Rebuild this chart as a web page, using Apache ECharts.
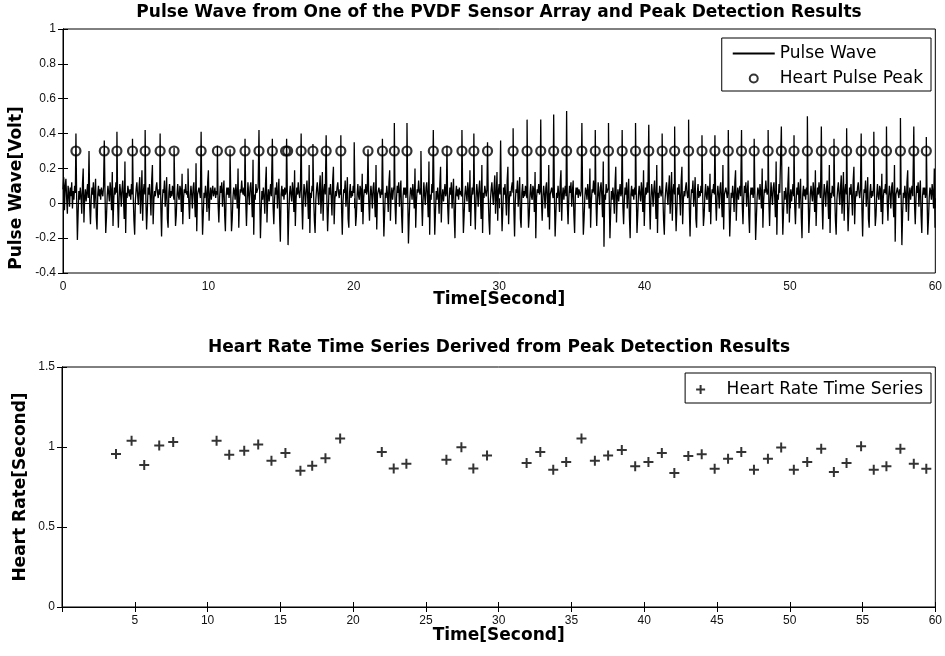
<!DOCTYPE html>
<html><head><meta charset="utf-8">
<script src="https://cdn.jsdelivr.net/npm/echarts@6/dist/echarts.min.js"></script>
<style>html,body{margin:0;padding:0;background:#fff}#c{width:945px;height:656px}</style>
</head><body><div id="c"></div>
<script>
// ---------- DATA ----------
const xTicksTop = [0, 10, 20, 30, 40, 50, 60];
const xTicksBottom = [5, 10, 15, 20, 25, 30, 35, 40, 45, 50, 55, 60];

// Pulse wave: sample step (s), beat onset times (s), and samples (volt x100) following each onset
const waveDt = 0.05;
const waveBeatTimes = [0, 0.89, 1.79, 2.84, 3.71, 4.78, 5.65, 6.68, 7.64, 8.60, 9.50, 10.62, 11.49, 12.52, 13.48, 14.40, 15.38, 16.38, 17.19, 18.10, 19.11, 20.03, 20.98, 21.97, 22.79, 23.66, 24.62, 25.47, 26.41, 27.44, 28.26, 29.20, 30.10, 30.96, 31.92, 32.86, 33.75, 34.64, 35.69, 36.61, 37.52, 38.46, 39.38, 40.29, 41.21, 42.07, 43.03, 43.95, 44.84, 45.76, 46.67, 47.54, 48.50, 49.41, 50.28, 51.20, 52.16, 53.03, 53.90, 54.90, 55.77, 56.64, 57.60, 58.52, 59.38];
const waveSegments = [
[8,15,-4,10,14,3,-6,10,6,-2,9,4,12,-3,7,2,10,6],
[40,3,-21,-6,7,2,9,4,-6,11,20,-11,3,8,1,6,11,3,5,8],
[30,-2,-12,2,9,5,12,-3,6,14,-8,-15,5,10,4,8,2,9,6,4,10,3],
[36,5,-17,-8,4,10,6,1,12,7,-4,18,-13,2,9,5,12,6,4],
[41,0,-14,3,11,6,-2,8,13,3,-9,24,-17,6,3,10,7,4,8,2,11,5],
[37,4,-10,-18,2,8,12,5,-1,9,15,-6,4,19,-10,7,11,5,3],
[42,2,-15,-4,9,5,11,3,-7,13,22,-12,2,7,4,9,12,6,3,8,5],
[40,-3,-19,1,8,6,13,-2,5,15,-9,-14,6,11,3,7,4,10,6,2],
[32,6,-13,-7,5,11,4,2,10,8,-5,17,-12,3,8,6,11,5,7,3],
[20,1,-9,4,10,5,-3,9,12,2,-8,23,-16,5,4,9,6,3,8,5],
[41,3,-18,-6,6,3,10,5,-5,12,19,-10,4,9,2,7,10,4,6,9,3,7,5],
[33,-1,-11,3,10,6,12,-2,7,13,-7,-16,4,9,5,9,3,8],
[31,5,-16,-9,3,9,7,2,11,6,-3,20,-14,1,8,6,13,7,5,9,4],
[37,1,-13,2,12,5,-1,9,12,4,-8,25,-18,5,2,11,6,5,9],
[42,4,-20,-5,7,2,9,4,-6,11,21,-11,3,8,1,6,11,4],
[37,-2,-12,2,9,5,12,-3,6,14,-8,-22,5,10,4,8,2,9,5,7],
[37,6,-24,-7,5,10,5,1,12,7,-5,19,-13,2,9,5,12,6,3,8],
[40,0,-15,3,11,6,-2,8,13,3,-9,22,-17,6,3,10,7],
[34,4,-10,-17,2,8,12,5,-1,9,16,-6,4,18,-10,7,11,5,4],
[39,2,-16,-4,9,5,11,3,-7,13,21,-12,2,7,4,9,12,6,3,8,5],
[39,-3,-18,1,8,6,13,-2,5,15,-9,-14,6,11,3,7,4,10,6],
[35,5,-13,-7,5,11,4,2,10,8,-5,17,-12,3,8,6,11,5,7],
[31,1,-10,4,10,5,-3,9,12,2,-8,22,-15,5,4,9,6,3,8,5],
[37,3,-19,-6,6,3,10,5,-5,12,19,-10,4,9,2,7,10],
[46,-1,-12,3,10,6,12,-2,7,13,-7,-17,4,9,5,9,3,8],
[46,5,-23,-9,3,9,7,2,11,6,-3,20,-14,1,8,6,13,7,5,9],
[30,1,-13,2,12,5,-1,9,12,4,-8,24,-18,5,2,11,6,5],
[42,4,-18,-5,7,2,9,4,-6,11,21,-11,3,8,1,6,11,4,6],
[33,-2,-12,2,9,5,12,-3,6,14,-8,-20,5,10,4,8,2,9,5,7,4],
[42,6,-17,-7,5,10,5,1,12,7,-5,19,-13,2,9,5,12],
[40,0,-15,3,11,6,-2,8,13,3,-9,22,-17,6,3,10,7,4,8],
[35,4,-10,-18,2,8,12,5,-1,9,16,-6,4,18,-10,7,11,5],
[36,2,-16,-4,9,5,11,3,-7,13,21,-12,2,7,4,9,12,6],
[43,-3,-19,1,8,6,13,-2,5,15,-9,-14,6,11,3,7,4,10,6,3],
[48,5,-14,-7,5,11,4,2,10,8,-5,18,-20,3,8,6,11,5,7],
[48,1,-10,4,10,5,-3,9,12,2,-8,22,-15,5,4,9,6,3],
[51,3,-19,-6,6,3,10,5,-5,12,19,-10,4,9,2,7,10,4],
[53,-1,-12,3,10,6,12,-2,7,13,-7,-17,4,9,5,9,3,8,6,4,7],
[46,5,-18,-9,3,9,7,2,11,6,-3,20,-14,1,8,6,13,7,5],
[42,1,-13,2,12,5,-1,9,12,4,-8,24,-25,5,2,11,6,5,9],
[46,4,-20,-5,7,2,9,4,-6,11,21,-11,3,8,1,6,11,4,6],
[42,-2,-12,2,9,5,12,-3,6,14,-8,-20,5,10,4,8,2,9,5],
[46,6,-17,-7,5,10,5,1,12,7,-5,19,-13,2,9,5,12,6],
[45,0,-15,3,11,6,-2,8,13,3,-9,22,-17,6,3,10,7,4,8],
[40,4,-10,-18,2,8,12,5,-1,9,16,-6,4,18,-10,7,11,5],
[44,2,-16,-4,9,5,11,3,-7,13,21,-12,2,7,4,9,12,6,3,8],
[48,-3,-19,1,8,6,13,-2,5,15,-9,-14,6,11,3,7,4,10,6],
[39,5,-13,-7,5,11,4,2,10,8,-5,17,-12,3,8,6,11,5],
[39,1,-10,4,10,5,-3,9,12,2,-8,22,-15,5,4,9,6,3,8],
[42,3,-19,-6,6,3,10,5,-5,12,19,-10,4,9,2,7,10,4],
[42,-1,-12,3,10,6,12,-2,7,13,-7,-17,4,9,5,9,3,8],
[37,5,-21,-9,3,9,7,2,11,6,-3,20,-14,1,8,6,13,7,5,9],
[42,1,-13,2,12,5,-1,9,12,4,-8,24,-18,5,2,11,6,5],
[44,4,-18,-5,7,2,9,4,-6,11,21,-11,3,8,1,6,11,4],
[39,-2,-12,2,9,5,12,-3,6,14,-8,-20,5,10,4,8,2,9,5],
[50,6,-17,-7,5,10,5,1,12,7,-5,19,-13,2,9,5,12,6,3],
[44,0,-15,3,11,6,-2,8,13,3,-9,22,-17,6,3,10,7,4],
[37,4,-10,-18,2,8,12,5,-1,9,16,-6,4,18,-10,7,11,5],
[43,2,-16,-4,9,5,11,3,-7,13,21,-12,2,7,4,9,12,6,3,8,5],
[40,-3,-19,1,8,6,13,-2,5,15,-9,-14,6,11,3,7,4,10],
[41,5,-13,-7,5,11,4,2,10,8,-5,17,-12,3,8,6,11,5],
[44,1,-10,4,10,5,-3,9,12,2,-8,22,-22,5,4,9,6,3,8,5],
[49,3,-24,-6,6,3,10,5,-5,12,19,-10,4,9,2,7,10,4],
[44,-1,-12,3,10,6,12,-2,7,13,-7,-17,4,9,5,9,3,8],
[38,5,-18,-9,3,9,7,2,11,6,-3,20,-14]
];

// Detected heart pulse peaks
const peakTimes = [0.89, 2.84, 3.71, 4.78, 5.65, 6.68, 7.64, 9.50, 10.62, 11.49, 12.52, 13.48, 14.40, 15.31, 15.45, 16.38, 17.19, 18.10, 19.11, 20.98, 21.97, 22.79, 23.66, 25.47, 26.41, 27.44, 28.26, 29.20, 30.96, 31.92, 32.86, 33.75, 34.64, 35.69, 36.61, 37.52, 38.46, 39.38, 40.29, 41.21, 42.07, 43.03, 43.95, 44.84, 45.76, 46.67, 47.54, 48.50, 49.41, 50.28, 51.20, 52.16, 53.03, 53.90, 54.90, 55.77, 56.64, 57.60, 58.52, 59.38];
const peakLevels = [0.3,0.3,0.3,0.3,0.3,0.3,0.3,0.3,0.3,0.3,0.3,0.3,0.3,0.3,0.3,0.3,0.3,0.3,0.3,0.3,0.3,0.3,0.3,0.3,0.3,0.3,0.3,0.3,0.3,0.3,0.3,0.3,0.3,0.3,0.3,0.3,0.3,0.3,0.3,0.3,0.3,0.3,0.3,0.3,0.3,0.3,0.3,0.3,0.3,0.3,0.3,0.3,0.3,0.3,0.3,0.3,0.3,0.3,0.3,0.3];

// Heart rate time series
const hrTimes = [3.71,4.78,5.65,6.68,7.64,10.62,11.49,12.52,13.48,14.39,15.35,16.38,17.19,18.10,19.11,21.97,22.79,23.66,26.41,27.44,28.26,29.20,31.92,32.86,33.75,34.64,35.69,36.61,37.52,38.46,39.38,40.29,41.21,42.07,43.03,43.95,44.84,45.76,46.67,47.54,48.50,49.41,50.28,51.20,52.16,53.03,53.90,54.90,55.77,56.64,57.60,58.52,59.38];
const hrValues = [0.956,1.039,0.887,1.010,1.031,1.039,0.952,0.977,1.016,0.914,0.962,0.852,0.883,0.929,1.053,0.968,0.866,0.896,0.920,0.999,0.866,0.947,0.900,0.968,0.858,0.906,1.053,0.914,0.947,0.981,0.879,0.906,0.962,0.837,0.943,0.954,0.864,0.927,0.968,0.858,0.927,0.997,0.858,0.906,0.989,0.844,0.900,1.004,0.858,0.879,0.989,0.896,0.864];

// ---------- BUILD ----------
const wave = [];
for (let i = 0; i < waveBeatTimes.length; i++) {
  const t0 = waveBeatTimes[i];
  const tEnd = i + 1 < waveBeatTimes.length ? waveBeatTimes[i + 1] : 60.0001;
  const seg = waveSegments[i];
  for (let k = 0; k < seg.length; k++) {
    const t = t0 + k * waveDt;
    if (t >= tEnd - 1e-9) break;
    wave.push([+t.toFixed(3), seg[k] / 100]);
  }
}
const peaks = peakTimes.map((t, i) => [t, peakLevels[i]]);
const hr = hrTimes.map((t, i) => [t, hrValues[i]]);

const FONT = 'Liberation Sans, Arial, sans-serif';
const BOLDFONT = 'DejaVu Sans, sans-serif';
const tickLbl = { fontSize: 12, color: '#111', fontFamily: FONT };
const nameStyle = { fontSize: 17, fontWeight: 'bold', color: '#000', fontFamily: BOLDFONT };
const legendText = { fontSize: 17, color: '#000', fontFamily: BOLDFONT };
const axLine = { show: true, lineStyle: { color: '#000', width: 1 } };
const tickIn = { show: true, inside: true, length: 5, lineStyle: { color: '#000', width: 1 } };

const chart = echarts.init(document.getElementById('c'), null, { renderer: 'canvas' });
chart.setOption({
  animation: false,
  backgroundColor: '#fff',
  title: [
    { text: 'Pulse Wave from One of the PVDF Sensor Array and Peak Detection Results', left: 499, textAlign: 'center', top: 4, padding: 0,
      textStyle: nameStyle },
    { text: 'Heart Rate Time Series Derived from Peak Detection Results', left: 499, textAlign: 'center', top: 339, padding: 0,
      textStyle: nameStyle }
  ],
  legend: [
    { data: [
        { name: 'Pulse Wave', itemStyle: { opacity: 0 } },
        { name: 'Heart Pulse Peak', icon: 'circle' }
      ],
      orient: 'vertical', right: 14, top: 38,
      itemWidth: 42, itemHeight: 8, itemGap: 8, padding: [7, 8, 4, 10],
      borderColor: '#000', borderWidth: 1, backgroundColor: '#fff', borderRadius: 0,
      textStyle: legendText },
    { data: ['Heart Rate Time Series'], orient: 'vertical', right: 14, top: 373,
      itemWidth: 42, itemHeight: 9, padding: [8, 8, 5, 10],
      borderColor: '#000', borderWidth: 1, backgroundColor: '#fff', borderRadius: 0,
      textStyle: legendText }
  ],
  grid: [
    { left: 62, right: 9, top: 29, height: 244, show: true, borderColor: '#000', borderWidth: 1, backgroundColor: '#fff' },
    { left: 62, right: 9, top: 367, height: 240, show: true, borderColor: '#000', borderWidth: 1, backgroundColor: '#fff' }
  ],
  xAxis: [
    { gridIndex: 0, type: 'value', min: xTicksTop[0], max: xTicksTop[xTicksTop.length - 1], interval: 10, position: 'bottom',
      axisLine: axLine, axisTick: tickIn, splitLine: { show: false },
      axisLabel: Object.assign({ margin: 8 }, tickLbl),
      name: 'Time[Second]', nameLocation: 'middle', nameGap: 18, nameMoveOverlap: false, nameTextStyle: nameStyle },
    { gridIndex: 0, type: 'value', min: 0, max: 60, interval: 10, position: 'top',
      axisLine: axLine, axisTick: tickIn, splitLine: { show: false }, axisLabel: { show: false } },
    { gridIndex: 1, type: 'value', min: 0, max: xTicksBottom[xTicksBottom.length - 1], interval: 5, position: 'bottom',
      axisLine: axLine, axisTick: tickIn, splitLine: { show: false },
      axisLabel: Object.assign({ margin: 8, formatter: v => (xTicksBottom.indexOf(v) >= 0 ? String(v) : '') }, tickLbl),
      name: 'Time[Second]', nameLocation: 'middle', nameGap: 20, nameMoveOverlap: false, nameTextStyle: nameStyle },
    { gridIndex: 1, type: 'value', min: 0, max: 60, interval: 5, position: 'top',
      axisLine: axLine, axisTick: tickIn, splitLine: { show: false }, axisLabel: { show: false } }
  ],
  yAxis: [
    { gridIndex: 0, type: 'value', min: -0.4, max: 1, interval: 0.2, position: 'left',
      axisLine: axLine, axisTick: tickIn, splitLine: { show: false },
      axisLabel: Object.assign({ margin: 7 }, tickLbl),
      name: 'Pulse Wave[Volt]', nameLocation: 'middle', nameGap: 38, nameMoveOverlap: false,
      nameTextStyle: Object.assign({ padding: [0, 74, 0, 0] }, nameStyle) },
    { gridIndex: 0, type: 'value', min: -0.4, max: 1, interval: 0.2, position: 'right',
      axisLine: axLine, axisTick: tickIn, splitLine: { show: false }, axisLabel: { show: false } },
    { gridIndex: 1, type: 'value', min: 0, max: 1.5, interval: 0.5, position: 'left',
      axisLine: axLine, axisTick: tickIn, splitLine: { show: false },
      axisLabel: Object.assign({ margin: 7 }, tickLbl),
      name: 'Heart Rate[Second]', nameLocation: 'middle', nameGap: 33, nameMoveOverlap: false, nameTextStyle: nameStyle },
    { gridIndex: 1, type: 'value', min: 0, max: 1.5, interval: 0.5, position: 'right',
      axisLine: axLine, axisTick: tickIn, splitLine: { show: false }, axisLabel: { show: false } }
  ],
  series: [
    { name: 'Pulse Wave', type: 'line', xAxisIndex: 0, yAxisIndex: 0, data: wave,
      symbol: 'none', showSymbol: false, silent: true,
      lineStyle: { color: '#000', width: 1.3 }, itemStyle: { color: '#000' } },
    { name: 'Heart Pulse Peak', type: 'scatter', xAxisIndex: 0, yAxisIndex: 0, data: peaks,
      symbol: 'circle', symbolSize: 9, silent: true, z: 3,
      itemStyle: { color: 'rgba(0,0,0,0)', borderColor: '#000', borderWidth: 2.2 } },
    { name: 'Heart Rate Time Series', type: 'scatter', xAxisIndex: 2, yAxisIndex: 2, data: hr,
      symbol: 'path://M5,0L5,10M0,5L10,5', symbolSize: 10, silent: true,
      itemStyle: { color: 'rgba(0,0,0,0)', borderColor: '#000', borderWidth: 2 } }
  ]
});
</script>
</body></html>
